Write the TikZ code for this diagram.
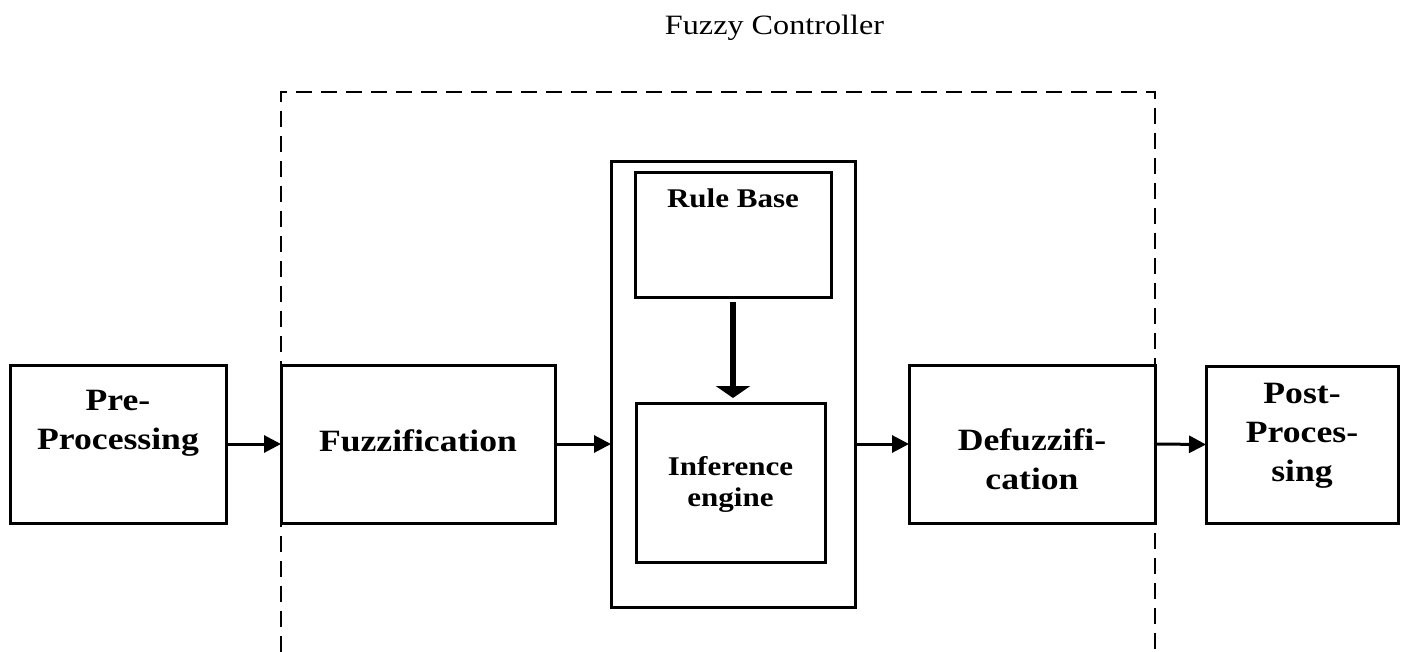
\documentclass[tikz,border=0pt]{standalone}
\usepackage{fontspec}
\setmainfont{Liberation Serif}[FakeStretch=1.15]
\usetikzlibrary{arrows.meta}
\tikzset{
  blk/.style={draw=black, line width=3pt, fill=white, inner sep=0pt, outer sep=0pt, rectangle},
  bigtxt/.style={font=\bfseries\fontsize{31}{39}\selectfont, align=center, inner sep=0pt},
  midtxt/.style={font=\bfseries\fontsize{27}{31}\selectfont, align=center, inner sep=0pt},
  flow/.style={line width=3pt, -{Triangle[length=17pt,width=17pt]}},
  heavy/.style={line width=6pt, -{Triangle[length=12pt,width=34pt]}},
  ctrl/.style={line width=2.8pt, dash pattern=on 16pt off 9pt}
}
\begin{document}
\begin{tikzpicture}[x=1pt,y=-1pt]
\useasboundingbox (0,0) rectangle (1402,652);
\fill[white] (0,0) rectangle (1402,652);
% title
\node[font=\fontsize{28}{32}\selectfont, anchor=base, inner sep=0pt] (title) at (774.5,35) {Fuzzy Controller};
% dashed fuzzy controller boundary
\coordinate (dbl) at (281,652);
\coordinate (dtl) at (281,92);
\coordinate (dtr) at (1155,92);
\coordinate (dbr) at (1155,652);
\draw[ctrl] (dbl) -- (dtl) -- (dtr) -- (dbr);
% boxes
\node[blk, minimum width=216pt, minimum height=158pt] (pre) at (118,444) {};
\node[blk, minimum width=274pt, minimum height=158pt] (fuzz) at (418,444) {};
\node[blk, minimum width=244pt, minimum height=445pt] (inner) at (733,384.5) {};
\node[blk, minimum width=196pt, minimum height=124pt] (rule) at (733,235) {};
\node[blk, minimum width=189pt, minimum height=159pt] (inf) at (730.5,482.5) {};
\node[blk, minimum width=246pt, minimum height=158pt] (defuzz) at (1032,444) {};
\node[blk, minimum width=192pt, minimum height=157pt] (post) at (1302,444.5) {};
% texts
\node[bigtxt] (pretxt) at (118,423) {Pre-\\Processing};
\node[bigtxt, anchor=base] (fuzztxt) at (418,451) {Fuzzification};
\node[bigtxt] (defuzztxt) at (1032,459) {Defuzzifi-\\cation};
\node[bigtxt] (posttxt) at (1302,435.5) {Post-\\Proces-\\sing};
\node[midtxt, anchor=base] (ruletxt) at (733,208) {Rule Base};
\node[midtxt] (inftxt) at (730.5,484) {Inference\\engine};
% connectors
\draw[flow] (pre.east) -- (fuzz.west);
\draw[flow] (fuzz.east) -- (fuzz.east -| inner.west);
\draw[flow] (inner.east |- defuzz.west) -- (defuzz.west);
\draw[flow] (defuzz.east) -- (post.west);
\draw[heavy, shorten <=5pt, shorten >=5pt] (rule.south) -- (inf.north -| rule.south);
\end{tikzpicture}
\end{document}
